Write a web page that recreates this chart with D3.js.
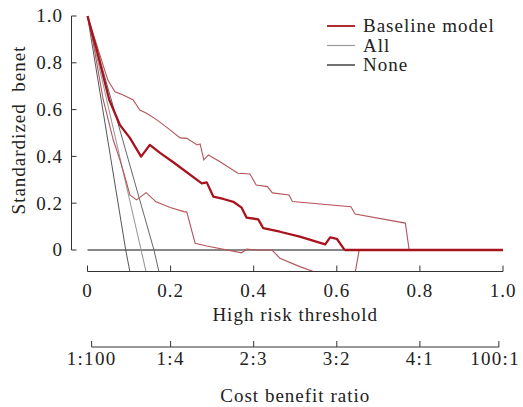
<!DOCTYPE html>
<html><head><meta charset="utf-8">
<script src="https://cdn.jsdelivr.net/npm/d3@7/dist/d3.min.js"></script>
<style>
html,body{margin:0;padding:0;background:#fff;}
text{font-family:"Liberation Serif","Times New Roman",serif;font-size:19px;fill:#222;letter-spacing:1px;}
text.cost{letter-spacing:1.3px;}
</style></head><body>
<svg id="chart" width="523" height="407"></svg>
<script>
// ---- data ----
const thresholdTicks = [0, 0.2, 0.4, 0.6, 0.8, 1.0];
const thresholdTickLabels = ["0", "0.2", "0.4", "0.6", "0.8", "1.0"];
const benefitTicks = [0, 0.2, 0.4, 0.6, 0.8, 1.0];
const benefitTickLabels = ["0", "0.2", "0.4", "0.6", "0.8", "1.0"];
const costTicks = [1/101, 0.2, 0.4, 0.6, 0.8, 100/101];
const costTickLabels = ["1:100", "1:4", "2:3", "3:2", "4:1", "100:1"];
const legendLabels = ["Baseline model", "All", "None"];

// Baseline model: [threshold, standardized net benefit]
const baseline = [[0,1],[0.02,0.87],[0.0525,0.641],[0.078,0.534],[0.102,0.479],[0.129,0.399],[0.150,0.449],
 [0.1745,0.415],[0.2065,0.375],[0.275,0.285],[0.287,0.289],[0.303,0.228],[0.327,0.218],[0.351,0.206],
 [0.371,0.181],[0.383,0.138],[0.411,0.131],[0.423,0.093],[0.463,0.078],[0.511,0.057],[0.572,0.024],
 [0.584,0.054],[0.600,0.048],[0.6174,0.004],[0.62,0],[1.0,0]];
const baselineUpper = [[0,1],[0.049,0.726],[0.066,0.676],[0.086,0.662],[0.110,0.641],[0.126,0.598],[0.142,0.584],
 [0.167,0.556],[0.194,0.520],[0.223,0.479],[0.239,0.477],[0.264,0.449],[0.271,0.453],[0.280,0.385],
 [0.291,0.406],[0.319,0.377],[0.362,0.328],[0.391,0.325],[0.406,0.278],[0.433,0.271],[0.445,0.244],
 [0.485,0.235],[0.493,0.207],[0.634,0.185],[0.644,0.154],[0.765,0.115],[0.774,0.002],[0.775,0],[1.0,0]];
const baselineLower = [[0,1],[0.014,0.883],[0.038,0.641],[0.050,0.556],[0.062,0.470],[0.078,0.385],[0.090,0.313],
 [0.102,0.235],[0.118,0.214],[0.141,0.245],[0.165,0.206],[0.199,0.182],[0.232,0.164],[0.239,0.162],
 [0.259,0.029],[0.287,0.017],[0.371,-0.012],[0.383,0.004],[0.407,0],[0.444,0],[0.463,-0.035],
 [0.511,-0.071],[0.547,-0.094],[0.60,-0.12],[0.644,-0.098],[0.654,0],[1.0,0]];
const allMid = [[0,1],[0.129,0],[0.141,-0.093]];
const allLow = [[0,1],[0.092,0],[0.102,-0.093]];
const allHigh = [[0,1],[0.160,0],[0.172,-0.093]];
const none = [[0,0],[1,0]];

// ---- layout ----
const svg = d3.select("#chart");
const x = d3.scaleLinear().domain([0,1]).range([87.5,503]);
const y = d3.scaleLinear().domain([0,1]).range([250,16]);
const xAxisY = 271.5, costAxisY = 347, yAxisX = 71.5;

svg.append("rect").attr("width",523).attr("height",407).attr("fill","#fff");
svg.append("defs").append("clipPath").attr("id","plotclip")
  .append("rect").attr("x",75).attr("y",5).attr("width",440).attr("height",xAxisY-5);

const line = d3.line().x(d=>x(d[0])).y(d=>y(d[1]));
const g = svg.append("g").attr("clip-path","url(#plotclip)");

g.append("path").datum(none).attr("d",line).attr("fill","none").attr("stroke","#111").attr("stroke-width",1.1);
g.append("path").datum(allLow).attr("d",line).attr("fill","none").attr("stroke","#555").attr("stroke-width",1);
g.append("path").datum(allMid).attr("d",line).attr("fill","none").attr("stroke","#999").attr("stroke-width",1.1);
g.append("path").datum(allHigh).attr("d",line).attr("fill","none").attr("stroke","#666").attr("stroke-width",1);
[baselineUpper, baselineLower].forEach(d=>{
  g.append("path").datum(d).attr("d",line).attr("fill","none").attr("stroke","#b5545a").attr("stroke-width",1.1);
});
g.append("path").datum(baseline).attr("d",line).attr("fill","none").attr("stroke","#a8141e").attr("stroke-width",2.3).attr("stroke-linejoin","round");

// Y axis
const yAx = svg.append("g");
yAx.append("line").attr("x1",yAxisX).attr("x2",yAxisX).attr("y1",y(1)).attr("y2",y(0)).attr("stroke","#333");
benefitTicks.forEach((t,i)=>{
  yAx.append("line").attr("x1",yAxisX).attr("x2",yAxisX+5).attr("y1",y(t)).attr("y2",y(t)).attr("stroke","#333");
  yAx.append("text").attr("x",63).attr("y",y(t)).attr("dy","0.34em").attr("text-anchor","end").text(benefitTickLabels[i]);
});
svg.append("text").attr("transform","translate(25,130) rotate(-90)").attr("text-anchor","middle").attr("style","white-space:pre").text("Standardized  benet");

// X axis (threshold)
const xAx = svg.append("g");
xAx.append("line").attr("x1",x(0)).attr("x2",x(1)).attr("y1",xAxisY).attr("y2",xAxisY).attr("stroke","#333");
thresholdTicks.forEach((t,i)=>{
  xAx.append("line").attr("x1",x(t)).attr("x2",x(t)).attr("y1",xAxisY).attr("y2",xAxisY-6).attr("stroke","#333");
  xAx.append("text").attr("x",x(t)).attr("y",296.5).attr("text-anchor","middle").text(thresholdTickLabels[i]);
});
svg.append("text").attr("x",x(0.5)).attr("y",320.5).attr("text-anchor","middle").text("High risk threshold");

// Cost benefit axis
const cAx = svg.append("g");
cAx.append("line").attr("x1",x(costTicks[0])).attr("x2",x(costTicks[costTicks.length-1])).attr("y1",costAxisY).attr("y2",costAxisY).attr("stroke","#333");
costTicks.forEach((t,i)=>{
  cAx.append("line").attr("x1",x(t)).attr("x2",x(t)).attr("y1",costAxisY).attr("y2",costAxisY-6).attr("stroke","#333");
  const last = i === costTicks.length-1;
  cAx.append("text").attr("class","cost")
    .attr("x", last ? 520 : x(t))
    .attr("y",364.5).attr("text-anchor", last ? "end" : "middle").text(costTickLabels[i]);
});
svg.append("text").attr("x",x(0.5)).attr("y",401.5).attr("text-anchor","middle").text("Cost benefit ratio");

// Legend
const legColors = ["#a8141e","#999","#111"], legWidths=[1.8,1.2,1.2];
legendLabels.forEach((l,i)=>{
  const yy = 26 + i*19.5;
  svg.append("line").attr("x1",327).attr("x2",355).attr("y1",yy).attr("y2",yy).attr("stroke",legColors[i]).attr("stroke-width",legWidths[i]);
  svg.append("text").attr("x",363).attr("y",yy).attr("dy","0.34em").text(l);
});
</script>
</body></html>
